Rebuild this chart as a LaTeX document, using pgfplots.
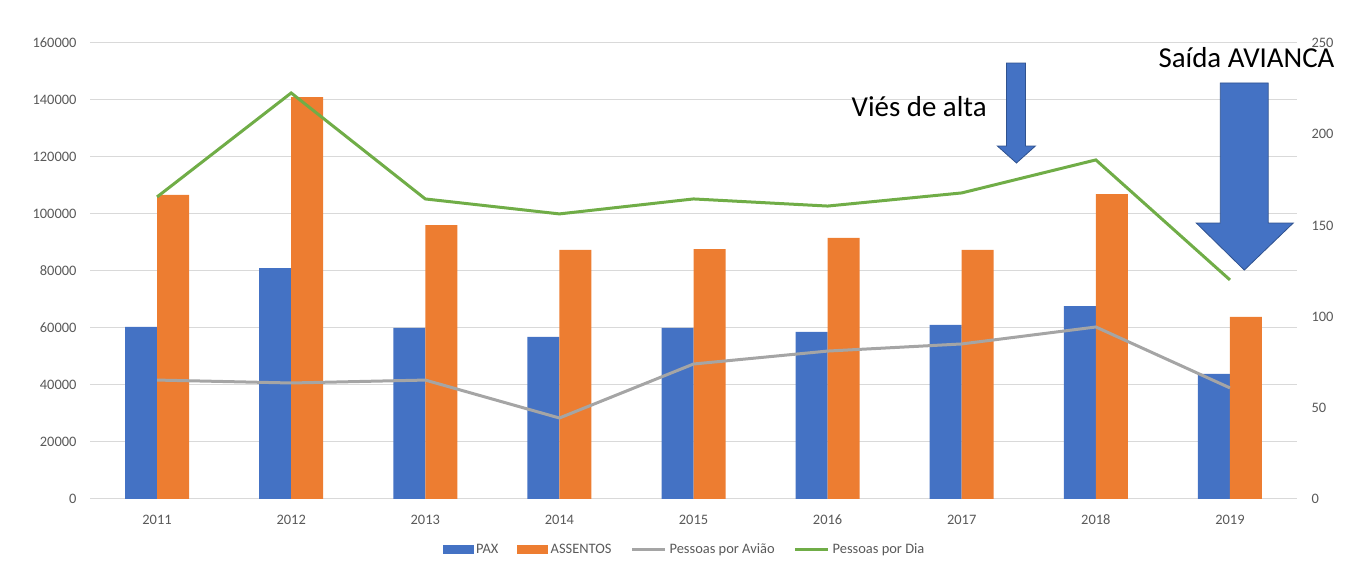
\documentclass[border=0pt]{standalone}
\usepackage{pgfplots}
\pgfplotsset{compat=1.18}
\usepackage{fontspec}
\setmainfont{Carlito}
\definecolor{cblue}{HTML}{4472C4}
\definecolor{corange}{HTML}{ED7D31}
\definecolor{cgray}{HTML}{A5A5A5}
\definecolor{cgreen}{HTML}{70AD47}
\definecolor{cgrid}{HTML}{D9D9D9}
\definecolor{ctext}{HTML}{595959}
\definecolor{cborder}{HTML}{2F528F}
\begin{document}
\begin{tikzpicture}[x=1bp,y=1bp]
\path[use as bounding box] (0,0) rectangle (1349,566);
\pgfplotsset{
  common/.style={
    scale only axis, width=1207bp, height=456bp,
    at={(90bp,67bp)}, anchor=south west,
    xmin=-0.5, xmax=8.5,
    axis line style={draw=none},
    tick style={draw=none},
    major tick length=0pt,
    ticklabel style={font=\fontsize{14.5}{16}\selectfont, text=ctext},
    /pgf/number format/assume math mode=true,
    /pgf/number format/fixed,
    /pgf/number format/precision=0,
    /pgf/number format/1000 sep={},
    scaled y ticks=false,
  }
}
\begin{axis}[common,
  ymin=0, ymax=160000,
  ytick={0,20000,...,160000},
  yticklabels={0,20000,40000,60000,80000,100000,120000,140000,160000},
  ymajorgrids, grid style={cgrid, line width=1bp},
  xtick={0,...,8},
  xticklabels={2011,2012,2013,2014,2015,2016,2017,2018,2019},
  xticklabel style={yshift=-12bp, text height=10bp, text depth=0pt},
  yticklabel style={xshift=-10bp},
  ybar=0pt, bar width=32bp,
]
\addplot[fill=cblue, draw=none] coordinates {(0,60400) (1,81000) (2,60000) (3,56900) (4,60000) (5,58600) (6,61100) (7,67700) (8,43900)};
\addplot[fill=corange, draw=none] coordinates {(0,106700) (1,141000) (2,96100) (3,87400) (4,87700) (5,91600) (6,87400) (7,107000) (8,63900)};
\end{axis}
\begin{axis}[common,
  clip=false,
  ymin=0, ymax=250,
  ytick={0,50,...,250},
  yticklabels={0,50,100,150,200,250},
  axis y line*=right,
  axis x line=none,
  yticklabel style={xshift=11bp},
  legend columns=4,
  legend style={draw=none, fill=none, at={(0.493,-0.11)}, anchor=center,
    font=\fontsize{14.5}{16}\selectfont, text=ctext,
    /tikz/every even column/.append style={column sep=16bp},
    nodes={inner xsep=3bp}},
]
\addlegendimage{legend image code/.code={\fill[cblue] (0bp,-4bp) rectangle (30bp,4bp);}}
\addlegendentry{PAX}
\addlegendimage{legend image code/.code={\fill[corange] (0bp,-4bp) rectangle (30bp,4bp);}}
\addlegendentry{ASSENTOS}
\addplot[cgray, line width=3bp, mark=none, legend image code/.code={\draw[cgray, line width=3bp] (0bp,0bp) -- (33bp,0bp);}] coordinates {(0,65.2) (1,63.6) (2,65.2) (3,44.4) (4,74.0) (5,81.1) (6,85.0) (7,94.3) (8,60.9)};
\addlegendentry{Pessoas por Avião}
\addplot[cgreen, line width=3bp, mark=none, legend image code/.code={\draw[cgreen, line width=3bp] (0bp,0bp) -- (33bp,0bp);}] coordinates {(0,165.6) (1,222.6) (2,164.5) (3,156.3) (4,164.5) (5,160.6) (6,167.8) (7,185.9) (8,120.1)};
\addlegendentry{Pessoas por Dia}
\filldraw[fill=cblue, draw=cborder, line width=0.8bp] (axis cs:6.333,239) -- (axis cs:6.475,239) -- (axis cs:6.475,193.5) -- (axis cs:6.549,193.5) -- (axis cs:6.408,184.2) -- (axis cs:6.266,193.5) -- (axis cs:6.333,193.5) -- cycle;
\filldraw[fill=cblue, draw=cborder, line width=0.8bp] (axis cs:7.928,228.1) -- (axis cs:8.285,228.1) -- (axis cs:8.285,151.3) -- (axis cs:8.472,151.3) -- (axis cs:8.107,125.5) -- (axis cs:7.749,151.3) -- (axis cs:7.928,151.3) -- cycle;
\node[anchor=west, inner sep=0pt, font=\fontsize{29}{32}\selectfont] at (axis cs:5.178,214.9) {Viés de alta};
\node[anchor=west, inner sep=0pt, font=\fontsize{29}{32}\selectfont] at (axis cs:7.466,241.8) {Saída AVIANCA};
\end{axis}
\end{tikzpicture}
\end{document}
